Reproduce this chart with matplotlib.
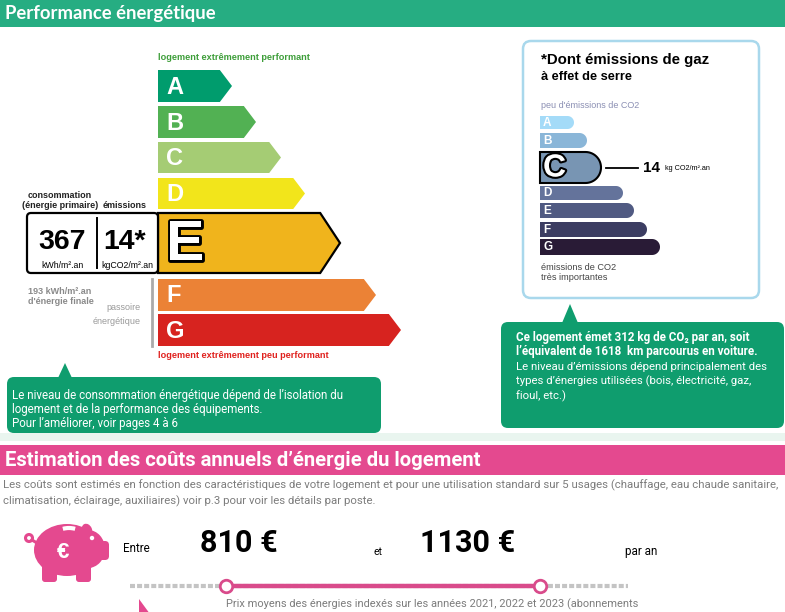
import numpy as np
import matplotlib
matplotlib.use("Agg")
import matplotlib.pyplot as plt
from matplotlib.patches import Polygon, FancyBboxPatch, Ellipse, Circle, Arc
import matplotlib.patheffects as pe

# data
classes = ["A", "B", "C", "D", "E", "F", "G"]
dpe_colors = ["#009c6d", "#52b153", "#a5cc74", "#f2e51b", "#f0b41c", "#eb8236", "#d7231f"]
dpe_ends = [232, 256, 281, 305, 340, 376, 401]
dpe_top = [70, 106, 142, 178, 213, 279, 314]
dpe_bot = [102, 138, 173, 209, 273, 311, 346]
my_class = "E"
conso = 367
emis = 14
finale = 193

ges_colors = ["#a4dbf8", "#8ab6d8", "#7895b3", "#64739b", "#505a82", "#3c3d62", "#291b36"]
ges_ends = [574, 587, 601, 623, 634, 647, 660]
ges_top = [116, 133, 152, 186, 203, 222, 239]
ges_bot = [129, 148, 183, 200, 218, 237, 255]
my_ges = "C"

co2_year = 312
km_car = 1618
cost_low = 810
cost_high = 1130

GREEN = "#26ad82"
PINK = "#e4498f"
SANS = ["Liberation Sans", "DejaVu Sans"]
PLEX = ["Roboto", "DejaVu Sans"]

fig = plt.figure(figsize=(7.85, 6.12), dpi=100)
ax = fig.add_axes([0, 0, 1, 1])
ax.set_xlim(0, 785)
ax.set_ylim(612, 0)
ax.axis("off")


def arrow(x0, x1, y0, y1, col, lw=0, ec="none", tip=0.38):
    h = y1 - y0
    xr = x1 - tip * h
    pts = [(x0, y0), (xr, y0), (x1, (y0 + y1) / 2), (xr, y1), (x0, y1)]
    ax.add_patch(Polygon(pts, closed=True, fc=col, ec=ec, lw=lw, joinstyle="miter"))


def rounded_bar(x0, x1, y0, y1, col, lw=0, ec="none"):
    r = (y1 - y0) / 2
    t = np.linspace(-np.pi / 2, np.pi / 2, 30)
    arc = [(x1 - r + r * np.cos(a), (y0 + y1) / 2 + r * np.sin(a)) for a in t]
    pts = [(x0, y0)] + arc + [(x0, y1)]
    ax.add_patch(Polygon(pts, closed=True, fc=col, ec=ec, lw=lw))


# header
ax.add_patch(plt.Rectangle((0, 0), 785, 27, fc=GREEN, ec="none"))
ax.text(5, 14, "Performance énergétique", color="white", fontsize=13.3,
        fontweight="bold", family=["Lato", "DejaVu Sans"], va="center")

ax.text(158, 58, "logement extrêmement performant", color="#3e9e3a", fontsize=6.6,
        fontweight="bold", family=SANS, va="center")

# DPE bars
for i, c in enumerate(classes):
    if c == my_class:
        arrow(158, dpe_ends[i], dpe_top[i], dpe_bot[i], dpe_colors[i], lw=1.6, ec="black", tip=0.33)
        ax.text(166, (dpe_top[i] + dpe_bot[i]) / 2 + 2, c, color="white", fontsize=41,
                fontweight="bold", family=SANS, va="center",
                path_effects=[pe.Stroke(linewidth=3.5, foreground="black"), pe.Normal()])
    else:
        arrow(158, dpe_ends[i], dpe_top[i], dpe_bot[i], dpe_colors[i])
        ax.text(166, (dpe_top[i] + dpe_bot[i]) / 2 + 1, c, color="white", fontsize=17,
                fontweight="bold", family=SANS, va="center")

# consumption box
ax.add_patch(FancyBboxPatch((27, 213), 131, 60, boxstyle="round,pad=0,rounding_size=4",
                            fc="white", ec="black", lw=1.6))
ax.plot([97, 97], [218, 268], color="black", lw=1.4)
ax.text(62, 242, str(conso), fontsize=20.5, fontweight="bold", family=SANS, ha="center", va="center")
ax.text(125, 242, f"{emis}*", fontsize=20.5, fontweight="bold", family=SANS, ha="center", va="center")
ax.text(62, 265, "kWh/m².an", fontsize=6.3, family=SANS, ha="center", va="center")
ax.text(127, 265, "kgCO2/m².an", fontsize=6.3, family=SANS, ha="center", va="center")
ax.text(60, 195, "consommation", fontsize=6.5, fontweight="bold", family=SANS, ha="center",
        va="center", color="#222222")
ax.text(60, 206, "(énergie primaire)", fontsize=6.5, fontweight="bold", family=SANS, ha="center",
        va="center", color="#222222")
ax.text(125, 206, "émissions", fontsize=6.5, fontweight="bold", family=SANS, ha="center",
        va="center", color="#222222")

# passoire
ax.plot([152, 152], [279, 346], color="#aaaaaa", lw=2)
ax.text(28, 292, f"{finale} kWh/m².an", fontsize=6.5, fontweight="bold", family=SANS,
        va="center", color="#8a8a8a")
ax.text(28, 302, "d'énergie finale", fontsize=6.5, fontweight="bold", family=SANS,
        va="center", color="#8a8a8a")
ax.text(141, 308, "passoire", fontsize=6.5, family=SANS, va="center", ha="right", color="#9a9a9a")
ax.text(141, 321, "énergétique", fontsize=6.5, family=SANS, va="center", ha="right", color="#9a9a9a")
ax.text(158, 356, "logement extrêmement peu performant", color="#e0221f", fontsize=6.6,
        fontweight="bold", family=SANS, va="center")

# left callout
ax.add_patch(FancyBboxPatch((7, 377), 374, 56, boxstyle="round,pad=0,rounding_size=7",
                            fc="#0f9d6e", ec="none"))
ax.add_patch(Polygon([(58, 378), (65, 363), (72, 378)], closed=True, fc="#0f9d6e", ec="none"))
left_lines = ["Le niveau de consommation énergétique dépend de l\u2019isolation du",
              "logement et de la performance des équipements.",
              "Pour l\u2019améliorer, voir pages 4 à 6"]
for k, s in enumerate(left_lines):
    ax.text(12, 395 + k * 14.5, s, color="white", fontsize=8.3, family=PLEX, va="center")

# GES box
ax.add_patch(FancyBboxPatch((523, 41), 236, 257, boxstyle="round,pad=0,rounding_size=8",
                            fc="white", ec="#a9d8ec", lw=1.8))
ax.text(541, 60, "*Dont émissions de gaz", fontsize=10.8, fontweight="bold", family=SANS, va="center")
ax.text(541, 77, "à effet de serre", fontsize=9.2, fontweight="bold", family=SANS, va="center")
ax.text(541, 106, "peu d'émissions de CO2", fontsize=6.5, family=SANS, va="center", color="#8b8fb3")
for i, c in enumerate(classes):
    yc = (ges_top[i] + ges_bot[i]) / 2
    if c == my_ges:
        rounded_bar(540, ges_ends[i], ges_top[i], ges_bot[i], ges_colors[i], lw=1.5, ec="black")
        ax.text(543, yc + 1, c, color="white", fontsize=23, fontweight="bold", family=SANS,
                va="center", path_effects=[pe.Stroke(linewidth=3, foreground="black"), pe.Normal()])
        ax.plot([606, 638], [yc, yc], color="black", lw=1.3)
        ax.text(643, yc, str(emis), fontsize=11, fontweight="bold", family=SANS, va="center")
        ax.text(665, yc + 1, "kg CO2/m².an", fontsize=5.2, family=SANS, va="center")
    else:
        rounded_bar(540, ges_ends[i], ges_top[i], ges_bot[i], ges_colors[i])
        ax.text(543, yc + 0.5, c, color="white", fontsize=8.5, fontweight="bold", family=SANS,
                va="center")
ax.text(541, 268, "émissions de CO2", fontsize=6.6, family=SANS, va="center", color="#444444")
ax.text(541, 277, "très importantes", fontsize=6.6, family=SANS, va="center", color="#444444")

# right callout
ax.add_patch(FancyBboxPatch((501, 322), 283, 106, boxstyle="round,pad=0,rounding_size=7",
                            fc="#0f9d6e", ec="none"))
ax.add_patch(Polygon([(562, 323), (570, 304), (578, 323)], closed=True, fc="#0f9d6e", ec="none"))
ax.text(516, 338, f"Ce logement émet {co2_year} kg de CO\u2082 par an, soit", color="white",
        fontsize=8.4, fontweight="bold", family=PLEX, va="center")
ax.text(516, 352, f"l\u2019équivalent de {km_car}  km parcourus en voiture.", color="white",
        fontsize=8.4, fontweight="bold", family=PLEX, va="center")
right_lines = ["Le niveau d\u2019émissions dépend principalement des",
               "types d\u2019énergies utilisées (bois, électricité, gaz,",
               "fioul, etc.)"]
for k, s in enumerate(right_lines):
    ax.text(516, 367 + k * 14.5, s, color="white", fontsize=8.2, family=PLEX, va="center")

# light band + pink header
ax.add_patch(plt.Rectangle((0, 433), 785, 8, fc="#e9f5ef", ec="none"))
ax.add_patch(plt.Rectangle((0, 445), 785, 30, fc=PINK, ec="none"))
ax.text(5, 461, "Estimation des coûts annuels d\u2019énergie du logement", color="white",
        fontsize=14.6, fontweight="bold", family=PLEX, va="center")
ax.text(3, 485, "Les coûts sont estimés en fonction des caractéristiques de votre logement et pour "
        "une utilisation standard sur 5 usages (chauffage, eau chaude sanitaire,",
        fontsize=8.2, family=PLEX, va="center", color="#7c7c7c")
ax.text(3, 501, "climatisation, éclairage, auxiliaires) voir p.3 pour voir les détails par poste.",
        fontsize=8.2, family=PLEX, va="center", color="#7c7c7c")

# piggy bank
ax.add_patch(Ellipse((67, 550), 66, 52, fc=PINK, ec="none"))
ax.add_patch(Ellipse((88, 549), 34, 38, fc=PINK, ec="none"))
ax.add_patch(FancyBboxPatch((96, 541), 13, 19, boxstyle="round,pad=0,rounding_size=4",
                            fc=PINK, ec="none"))
ax.add_patch(Ellipse((87, 530), 10, 13, angle=-25, fc=PINK, ec="none"))
ax.add_patch(FancyBboxPatch((42, 564), 15, 18, boxstyle="round,pad=0,rounding_size=3",
                            fc=PINK, ec="none"))
ax.add_patch(FancyBboxPatch((76, 564), 15, 18, boxstyle="round,pad=0,rounding_size=3",
                            fc=PINK, ec="none"))
ax.add_patch(Circle((29, 538), 3.5, fc="none", ec=PINK, lw=2.2))
ax.plot([32, 37], [540, 543], color=PINK, lw=2.2)
ax.add_patch(Arc((69, 542), 36, 28, theta1=245, theta2=295, color="white", lw=3))
ax.add_patch(Circle((92, 538), 2.2, fc="white", ec="none"))
ax.text(63, 553, "€", color="white", fontsize=16, fontweight="bold", family=SANS,
        ha="center", va="center")

# costs
ax.text(123, 549, "Entre", fontsize=8.4, family=PLEX, va="center")
ax.text(200, 543, f"{cost_low} €", fontsize=22, fontweight="bold", family=PLEX, va="center")
ax.text(373, 552, "et", fontsize=7.6, family=PLEX, va="center")
ax.text(420, 543, f"{cost_high} €", fontsize=22, fontweight="bold", family=PLEX, va="center")
ax.text(625, 551, "par an", fontsize=8.4, family=PLEX, va="center")

# slider
ax.plot([130, 628], [586, 586], color="#c4c4c4", lw=3, dashes=(1.2, 0.5), solid_capstyle="butt")
ax.plot([226, 540], [586, 586], color="#d94b8b", lw=3.2)
ax.plot([226, 540], [586, 586], "o", ms=9, mfc="white", mec="#d94b8b", mew=2)
ax.text(226, 604, "Prix moyens des énergies indexés sur les années 2021, 2022 et 2023 (abonnements",
        fontsize=7.9, family=PLEX, va="center", color="#7c7c7c")
ax.add_patch(Polygon([(139, 599), (139, 614), (150, 614)], closed=True, fc=PINK, ec="none"))

fig.savefig("out.png", dpi=100)
